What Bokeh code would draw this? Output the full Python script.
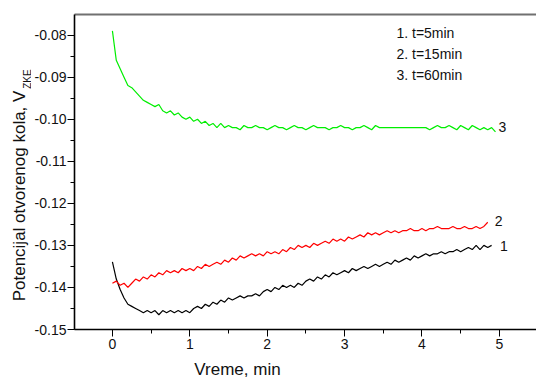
from bokeh.plotting import figure
from bokeh.layouts import row, column
from bokeh.models import (Label, LinearAxis, SingleIntervalTicker, PrintfTickFormatter,
                          FixedTicker, Range1d, ColumnDataSource)
from bokeh.embed import file_html
from bokeh.resources import INLINE
import math

# ---- data ----
time_min = [
    0.00, 0.05, 0.10, 0.15, 0.20, 0.25, 0.30, 0.35, 0.40, 0.45,
    0.50, 0.55, 0.60, 0.65, 0.70, 0.75, 0.80, 0.85, 0.90, 0.95,
    1.00, 1.05, 1.10, 1.15, 1.20, 1.25, 1.30, 1.35, 1.40, 1.45,
    1.50, 1.55, 1.60, 1.65, 1.70, 1.75, 1.80, 1.85, 1.90, 1.95,
    2.00, 2.05, 2.10, 2.15, 2.20, 2.25, 2.30, 2.35, 2.40, 2.45,
    2.50, 2.55, 2.60, 2.65, 2.70, 2.75, 2.80, 2.85, 2.90, 2.95,
    3.00, 3.05, 3.10, 3.15, 3.20, 3.25, 3.30, 3.35, 3.40, 3.45,
    3.50, 3.55, 3.60, 3.65, 3.70, 3.75, 3.80, 3.85, 3.90, 3.95,
    4.00, 4.05, 4.10, 4.15, 4.20, 4.25, 4.30, 4.35, 4.40, 4.45,
    4.50, 4.55, 4.60, 4.65, 4.70, 4.75, 4.80, 4.85, 4.90, 4.95,
]

# curve 1: t = 5 min (black)
v_5min = [
    -0.1339, -0.1380, -0.1405, -0.1425, -0.1440, -0.1445, -0.1450, -0.1455, -0.1460, -0.1455,
    -0.1460, -0.1455, -0.1465, -0.1455, -0.1460, -0.1455, -0.1460, -0.1455, -0.1460, -0.1455,
    -0.1460, -0.1450, -0.1445, -0.1450, -0.1440, -0.1445, -0.1435, -0.1440, -0.1430, -0.1435,
    -0.1425, -0.1430, -0.1425, -0.1420, -0.1425, -0.1420, -0.1420, -0.1415, -0.1420, -0.1410,
    -0.1405, -0.1410, -0.1400, -0.1405, -0.1395, -0.1400, -0.1395, -0.1400, -0.1390, -0.1395,
    -0.1385, -0.1380, -0.1385, -0.1375, -0.1380, -0.1370, -0.1375, -0.1365, -0.1370, -0.1365,
    -0.1360, -0.1365, -0.1355, -0.1360, -0.1355, -0.1350, -0.1355, -0.1350, -0.1345, -0.1350,
    -0.1345, -0.1340, -0.1345, -0.1335, -0.1340, -0.1335, -0.1330, -0.1335, -0.1325, -0.1330,
    -0.1325, -0.1320, -0.1325, -0.1320, -0.1320, -0.1315, -0.1320, -0.1315, -0.1315, -0.1310,
    -0.1315, -0.1310, -0.1305, -0.1310, -0.1300, -0.1310, -0.1300, -0.1305, -0.1300,
]

# curve 2: t = 15 min (red)
v_15min = [
    -0.1390, -0.1385, -0.1395, -0.1390, -0.1400, -0.1390, -0.1380, -0.1385, -0.1375, -0.1380,
    -0.1370, -0.1375, -0.1365, -0.1370, -0.1360, -0.1365, -0.1360, -0.1365, -0.1355, -0.1360,
    -0.1355, -0.1360, -0.1350, -0.1355, -0.1345, -0.1350, -0.1345, -0.1340, -0.1345, -0.1335,
    -0.1340, -0.1330, -0.1335, -0.1325, -0.1330, -0.1325, -0.1320, -0.1325, -0.1320, -0.1325,
    -0.1315, -0.1320, -0.1315, -0.1320, -0.1310, -0.1315, -0.1305, -0.1310, -0.1300, -0.1305,
    -0.1300, -0.1305, -0.1295, -0.1300, -0.1295, -0.1290, -0.1295, -0.1285, -0.1290, -0.1285,
    -0.1290, -0.1280, -0.1285, -0.1280, -0.1275, -0.1280, -0.1270, -0.1275, -0.1270, -0.1275,
    -0.1270, -0.1265, -0.1270, -0.1265, -0.1270, -0.1265, -0.1265, -0.1260, -0.1265, -0.1265,
    -0.1260, -0.1265, -0.1260, -0.1260, -0.1255, -0.1260, -0.1260, -0.1260, -0.1255, -0.1260,
    -0.1260, -0.1255, -0.1260, -0.1260, -0.1255, -0.1260, -0.1255, -0.1245,
]

# curve 3: t = 60 min (green)
v_60min = [
    -0.0790, -0.0860, -0.0880, -0.0900, -0.0920, -0.0925, -0.0935, -0.0945, -0.0955, -0.0960,
    -0.0965, -0.0970, -0.0965, -0.0980, -0.0985, -0.0980, -0.0990, -0.0985, -0.0995, -0.1000,
    -0.0995, -0.1005, -0.1000, -0.1010, -0.1005, -0.1015, -0.1010, -0.1020, -0.1010, -0.1020,
    -0.1015, -0.1020, -0.1020, -0.1025, -0.1015, -0.1020, -0.1020, -0.1015, -0.1020, -0.1020,
    -0.1025, -0.1020, -0.1015, -0.1020, -0.1020, -0.1025, -0.1020, -0.1015, -0.1020, -0.1020,
    -0.1025, -0.1020, -0.1015, -0.1020, -0.1020, -0.1020, -0.1025, -0.1020, -0.1020, -0.1015,
    -0.1020, -0.1020, -0.1025, -0.1020, -0.1020, -0.1015, -0.1020, -0.1025, -0.1015, -0.1020,
    -0.1020, -0.1020, -0.1020, -0.1020, -0.1020, -0.1020, -0.1020, -0.1020, -0.1020, -0.1020,
    -0.1020, -0.1020, -0.1025, -0.1020, -0.1015, -0.1020, -0.1020, -0.1015, -0.1020, -0.1025,
    -0.1015, -0.1020, -0.1025, -0.1015, -0.1020, -0.1025, -0.1020, -0.1025, -0.1020, -0.1030,
]

legend_lines = ["1. t=5min", "2. t=15min", "3. t=60min"]
curve_tags = ["1", "2", "3"]
x_title = "Vreme, min"
y_title = "Potencijal otvorenog kola, V"
y_title_sub = "ZKE"

FONT = "Liberation Sans"
TXT = "#111111"


def blank_fig(w, h):
    f = figure(width=w, height=h, x_range=Range1d(0, w), y_range=Range1d(h, 0),
               x_axis_type=None, y_axis_type=None, output_backend="svg",
               toolbar_location=None, min_border_left=0, min_border_right=0,
               min_border_top=0, min_border_bottom=0)
    f.grid.visible = False
    f.outline_line_color = None
    f.background_fill_color = "white"
    f.border_fill_color = "white"
    return f


# ---- main plot ----
p = figure(width=505, height=356,
           x_range=Range1d(-0.49, 5.48), y_range=Range1d(-0.15, -0.0751),
           output_backend="svg", toolbar_location=None,
           min_border_left=41, min_border_right=0, min_border_top=14, min_border_bottom=27)
p.grid.visible = False
p.outline_line_color = None
p.background_fill_color = "white"
p.border_fill_color = "white"

series = [(v_5min, "#000000"), (v_15min, "#ff0000"), (v_60min, "#00ee00")]
for vals, col in series:
    src = ColumnDataSource(dict(t=time_min[:len(vals)], v=vals))
    p.line("t", "v", source=src, line_color=col, line_width=1.2)

xa = p.xaxis[0]
xa.ticker = SingleIntervalTicker(interval=1, num_minor_ticks=2)
ya = p.yaxis[0]
ya.ticker = SingleIntervalTicker(interval=0.01, num_minor_ticks=2)
ya.formatter = PrintfTickFormatter(format="%.2f")
for ax in (xa, ya):
    ax.axis_line_color = "black"
    ax.axis_line_width = 1.6
    ax.major_tick_line_color = "black"
    ax.minor_tick_line_color = "black"
    ax.major_tick_out = 7
    ax.major_tick_in = 0
    ax.minor_tick_out = 4
    ax.minor_tick_in = 0
    ax.major_label_text_font = FONT
    ax.major_label_text_font_size = "14px"
    ax.major_label_text_color = TXT
ya.major_label_standoff = 1
xa.major_label_standoff = 2

top = LinearAxis(ticker=FixedTicker(ticks=[]), axis_line_color="#707070", axis_line_width=2,
                 major_tick_out=0, minor_tick_out=0, major_tick_in=0, minor_tick_in=0,
                 major_label_text_font_size="0px", major_label_standoff=0, axis_label_standoff=0)
p.add_layout(top, "above")

leg_y = [-0.0796, -0.0846, -0.0896]
for txt, yy in zip(legend_lines, leg_y):
    p.add_layout(Label(x=3.67, y=yy, text=txt, text_font=FONT, text_font_size="14px",
                       text_align="left", text_baseline="middle", text_color=TXT))

tag_pos = [(5.06, -0.1301), (4.99, -0.1242), (5.04, -0.1018)]
for txt, (xx, yy) in zip(curve_tags, tag_pos):
    p.add_layout(Label(x=xx, y=yy, text=txt, text_font=FONT, text_font_size="14px",
                       text_align="center", text_baseline="middle", text_color=TXT))

# ---- left strip with the y title (main text ends where the subscript begins) ----
lf = blank_fig(31, 356)
lf.add_layout(Label(x=19, y=86, text=y_title, text_font=FONT, text_font_size="17px",
                    text_align="right", text_baseline="middle", angle=math.pi / 2,
                    text_color=TXT))
lf.add_layout(Label(x=26.5, y=84, text=y_title_sub, text_font=FONT, text_font_size="10px",
                    text_align="left", text_baseline="middle", angle=math.pi / 2,
                    text_color=TXT))

# ---- bottom strip with the x title ----
bf = blank_fig(536, 22)
bf.add_layout(Label(x=237, y=13, text=x_title, text_font=FONT, text_font_size="17px",
                    text_align="center", text_baseline="middle", text_color=TXT))

layout = column(row(lf, p, spacing=0), bf, spacing=0)
open("out.html", "w").write(file_html(layout, INLINE))
